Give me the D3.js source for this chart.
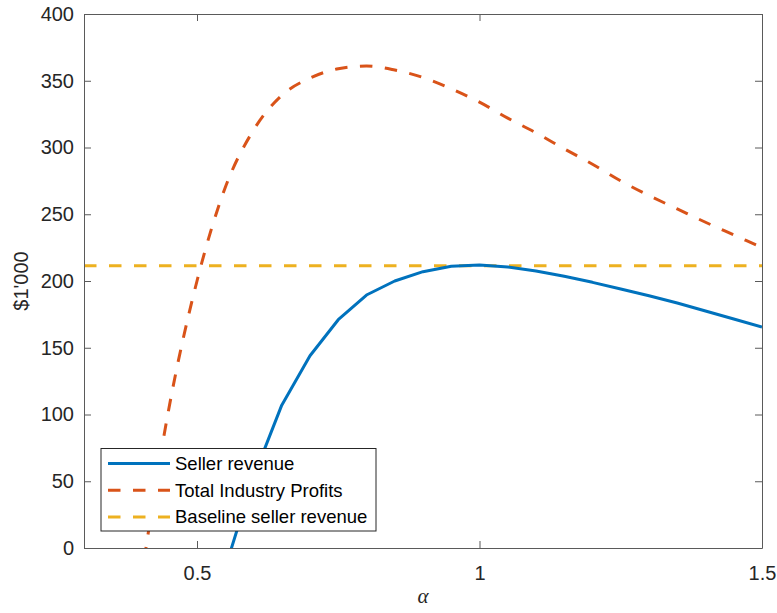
<!DOCTYPE html>
<html>
<head>
<meta charset="utf-8">
<script src="https://cdn.jsdelivr.net/npm/d3@7"></script>
<style>
  body { margin: 0; background: #fff; }
  svg { display: block; }
  .tick text { font-family: "Liberation Sans", Arial, sans-serif; }
</style>
</head>
<body>
<svg width="777" height="613"></svg>
<script>
// values (alpha steps of 0.05)
var sellerAlpha = [0.55, 0.60, 0.65, 0.70, 0.75, 0.80, 0.85, 0.90, 0.95, 1.00, 1.05, 1.10,
                   1.15, 1.20, 1.25, 1.30, 1.35, 1.40, 1.45, 1.50];
var sellerRevenue = [-15, 53, 107, 144, 171, 189.5, 200, 207, 211, 212, 210.5, 207.5,
                     203.5, 199, 194, 189, 183.5, 177.5, 171.5, 165.5];

var profitAlpha = [0.40, 0.45, 0.50, 0.55, 0.60, 0.65, 0.70, 0.75, 0.80, 0.85, 0.90, 0.95,
                   1.00, 1.05, 1.10, 1.15, 1.20, 1.25, 1.30, 1.35, 1.40, 1.45, 1.50];
var industryProfits = [-27, 104, 200, 270, 313, 339, 352, 359, 361, 358, 352.5, 344,
                       334, 322, 311, 299, 287.5, 275, 264, 254, 244, 234.5, 225];

var baselineRevenue = 211.5;

var xTicks = [0.5, 1, 1.5];
var yTicks = [0, 50, 100, 150, 200, 250, 300, 350, 400];
var legendLabels = ["Seller revenue", "Total Industry Profits", "Baseline seller revenue"];

var svg = d3.select("svg"),
    margin = {left: 84, right: 15, top: 14, bottom: 65},
    width = 777 - margin.left - margin.right,
    height = 613 - margin.top - margin.bottom;

var colors = ["#0072BD", "#D95319", "#EDB120"];
var textColor = "#262626";
var axisColor = "#5a5a5a";
var font = '"Liberation Sans", Arial, sans-serif';

var x = d3.scaleLinear().domain([0.3, 1.5]).range([0, width]);
var y = d3.scaleLinear().domain([0, 400]).range([height, 0]);

var g = svg.append("g")
    .attr("transform", "translate(" + margin.left + "," + margin.top + ")");

g.append("clipPath").attr("id", "plotclip")
  .append("rect").attr("width", width).attr("height", height);

var plot = g.append("g").attr("clip-path", "url(#plotclip)");

// lines
var sellerData = sellerAlpha.map(function(a, i) { return [a, sellerRevenue[i]]; });
var profitData = profitAlpha.map(function(a, i) { return [a, industryProfits[i]]; });

var line = d3.line()
    .x(function(d) { return x(d[0]); })
    .y(function(d) { return y(d[1]); });

plot.append("path")
    .datum(profitData)
    .attr("fill", "none")
    .attr("stroke", colors[1])
    .attr("stroke-width", 3)
    .attr("stroke-dasharray", "12.5,12.5")
    .attr("d", line.curve(d3.curveMonotoneX));

plot.append("line")
    .attr("x1", x(0.3)).attr("x2", x(1.5))
    .attr("y1", y(baselineRevenue)).attr("y2", y(baselineRevenue))
    .attr("stroke", colors[2])
    .attr("stroke-width", 3)
    .attr("stroke-dasharray", "12.5,12.5");

plot.append("path")
    .datum(sellerData)
    .attr("fill", "none")
    .attr("stroke", colors[0])
    .attr("stroke-width", 3)
    .attr("stroke-linejoin", "round")
    .attr("d", line.curve(d3.curveLinear));

// axes (MATLAB style: box with ticks inside on all sides)
function styleAxis(sel) {
  sel.select(".domain").attr("stroke", axisColor);
  sel.selectAll(".tick line").attr("stroke", axisColor);
  sel.selectAll(".tick text").attr("fill", textColor).style("font-size", "20px").style("font-family", font);
}

var fmt = d3.format("~g");

g.append("g")
    .attr("transform", "translate(0," + height + ")")
    .call(d3.axisBottom(x).tickValues(xTicks).tickFormat(fmt).tickSizeInner(-7).tickSizeOuter(0).tickPadding(17.5))
    .call(styleAxis);

g.append("g")
    .call(d3.axisTop(x).tickValues(xTicks).tickFormat("").tickSizeInner(-7).tickSizeOuter(0))
    .call(styleAxis);

g.append("g")
    .call(d3.axisLeft(y).tickValues(yTicks).tickFormat(fmt).tickSizeInner(-7).tickSizeOuter(0).tickPadding(10))
    .call(styleAxis);

g.append("g")
    .attr("transform", "translate(" + width + ",0)")
    .call(d3.axisRight(y).tickValues(yTicks).tickFormat("").tickSizeInner(-7).tickSizeOuter(0))
    .call(styleAxis);

// axis labels
svg.append("text")
    .attr("x", margin.left + width / 2)
    .attr("y", 603)
    .attr("text-anchor", "middle")
    .attr("fill", textColor)
    .style("font-family", '"Liberation Serif", "DejaVu Serif", serif')
    .style("font-style", "italic")
    .style("font-size", "21px")
    .text("α");

svg.append("text")
    .attr("transform", "translate(28," + (margin.top + height / 2) + ") rotate(-90)")
    .attr("text-anchor", "middle")
    .attr("fill", textColor)
    .style("font-family", font)
    .style("font-size", "20px")
    .text("$1'000");

// legend
var legend = svg.append("g").attr("transform", "translate(101,448.5)");

legend.append("rect")
    .attr("width", 275)
    .attr("height", 82.5)
    .attr("fill", "#fff")
    .attr("stroke", textColor)
    .attr("stroke-width", 1);

var dashes = [null, "12.5,12.5", "12.5,12.5"];

var entry = legend.selectAll(".entry")
    .data(legendLabels)
    .enter().append("g")
    .attr("class", "entry")
    .attr("transform", function(d, i) { return "translate(0," + (15 + i * 26.7) + ")"; });

entry.append("line")
    .attr("x1", 7).attr("x2", 69)
    .attr("stroke", function(d, i) { return colors[i]; })
    .attr("stroke-width", 3)
    .attr("stroke-dasharray", function(d, i) { return dashes[i]; });

entry.append("text")
    .attr("x", 74)
    .attr("dy", "0.35em")
    .attr("fill", "#000")
    .style("font-family", font)
    .style("font-size", "18.5px")
    .text(function(d) { return d; });
</script>
</body>
</html>
